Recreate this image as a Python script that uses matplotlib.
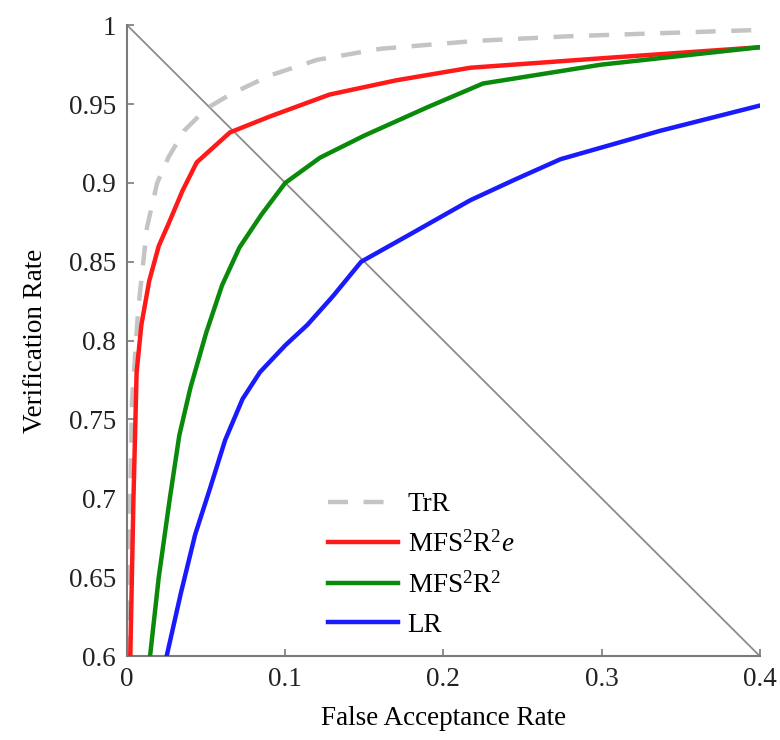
#!/usr/bin/env python3

# %% Imports
import numpy as np
import matplotlib
matplotlib.use('Agg')
import matplotlib.pyplot as plt

# %% ROC data (false acceptance rate vs. verification rate)
far_trr = [0.001, 0.002, 0.003, 0.007, 0.0126, 0.019, 0.026, 0.036, 0.05,
           0.065, 0.09, 0.12, 0.16, 0.22, 0.28, 0.4]
vr_trr = [0.6, 0.7, 0.76, 0.82, 0.872, 0.9, 0.916, 0.933, 0.947,
          0.956, 0.968, 0.978, 0.985, 0.99, 0.993, 0.997]

far_mfs_e = [0.002, 0.004, 0.006, 0.009, 0.014, 0.02, 0.027, 0.035, 0.044,
             0.065, 0.09, 0.128, 0.17, 0.217, 0.3, 0.4]
vr_mfs_e = [0.6, 0.7, 0.78, 0.81, 0.838, 0.86, 0.876, 0.895, 0.913,
            0.932, 0.942, 0.956, 0.965, 0.973, 0.979, 0.986]

far_mfs = [0.0145, 0.02, 0.027, 0.033, 0.04, 0.05, 0.06, 0.071, 0.085,
           0.1, 0.122, 0.15, 0.19, 0.225, 0.3, 0.4]
vr_mfs = [0.6, 0.65, 0.7, 0.74, 0.77, 0.805, 0.835, 0.859, 0.88,
          0.9, 0.916, 0.93, 0.948, 0.963, 0.975, 0.986]

far_lr = [0.025, 0.034, 0.043, 0.052, 0.062, 0.073, 0.084, 0.1, 0.114,
          0.13, 0.148, 0.18, 0.217, 0.245, 0.274, 0.337, 0.4]
vr_lr = [0.6, 0.64, 0.677, 0.705, 0.737, 0.763, 0.78, 0.797, 0.81,
         0.828, 0.85, 0.868, 0.889, 0.902, 0.915, 0.933, 0.949]

# equal error rate diagonal
eer_x = [0.0, 0.4]
eer_y = [1.0, 0.6]

# %% Create plot
plt.rcParams['font.family'] = ['Liberation Serif', 'DejaVu Serif']
plt.rcParams['mathtext.fontset'] = 'custom'
plt.rcParams['mathtext.rm'] = 'Liberation Serif'
plt.rcParams['mathtext.it'] = 'Liberation Serif:italic'
plt.rcParams['font.size'] = 19.5

fig = plt.figure(figsize=(7.8, 7.4), dpi=100)
ax = fig.add_axes([0.163, 0.1135, 0.811, 0.8525])

ax.plot(eer_x, eer_y, '-', color='#8c8c8c', lw=1.3, zorder=1)
ax.plot(far_trr, vr_trr, '--', color='#c4c4c4', lw=3.2, dashes=(4.5, 3.5),
        label='TrR', zorder=2)
ax.plot(far_mfs_e, vr_mfs_e, '-', color='#ff1a1a', lw=3.2,
        label=r'MFS$^2$R$^2$$e$', zorder=3)
ax.plot(far_mfs, vr_mfs, '-', color='#0a8a0a', lw=3.2,
        label=r'MFS$^2$R$^2$', zorder=3)
ax.plot(far_lr, vr_lr, '-', color='#1a1aff', lw=3.2, label='LR', zorder=3)

ax.set_xlim(0, 0.4)
ax.set_ylim(0.6, 1.0)
ax.set_xticks(np.arange(0, 0.41, 0.1))
ax.set_xticklabels(['0', '0.1', '0.2', '0.3', '0.4'])
ax.set_yticks(np.arange(0.6, 1.001, 0.05))
ax.set_yticklabels(['0.6', '0.65', '0.7', '0.75', '0.8', '0.85', '0.9',
                    '0.95', '1'])

for side in ('top', 'right'):
    ax.spines[side].set_visible(False)
for side in ('left', 'bottom'):
    ax.spines[side].set_color('#7a7a7a')
    ax.spines[side].set_linewidth(1.5)
ax.tick_params(direction='in', length=5, width=1.2, color='#7a7a7a',
               labelcolor='#222222', pad=8)

ax.set_xlabel('False Acceptance Rate', labelpad=10)
ax.set_ylabel('Verification Rate', labelpad=15)

ax.legend(loc='lower left', bbox_to_anchor=(0.3, 0.012), frameon=False,
          handlelength=2.6, handletextpad=0.35, labelspacing=0.52,
          borderaxespad=0)

# %% Save plot
fig.savefig('out.png', dpi=100)
